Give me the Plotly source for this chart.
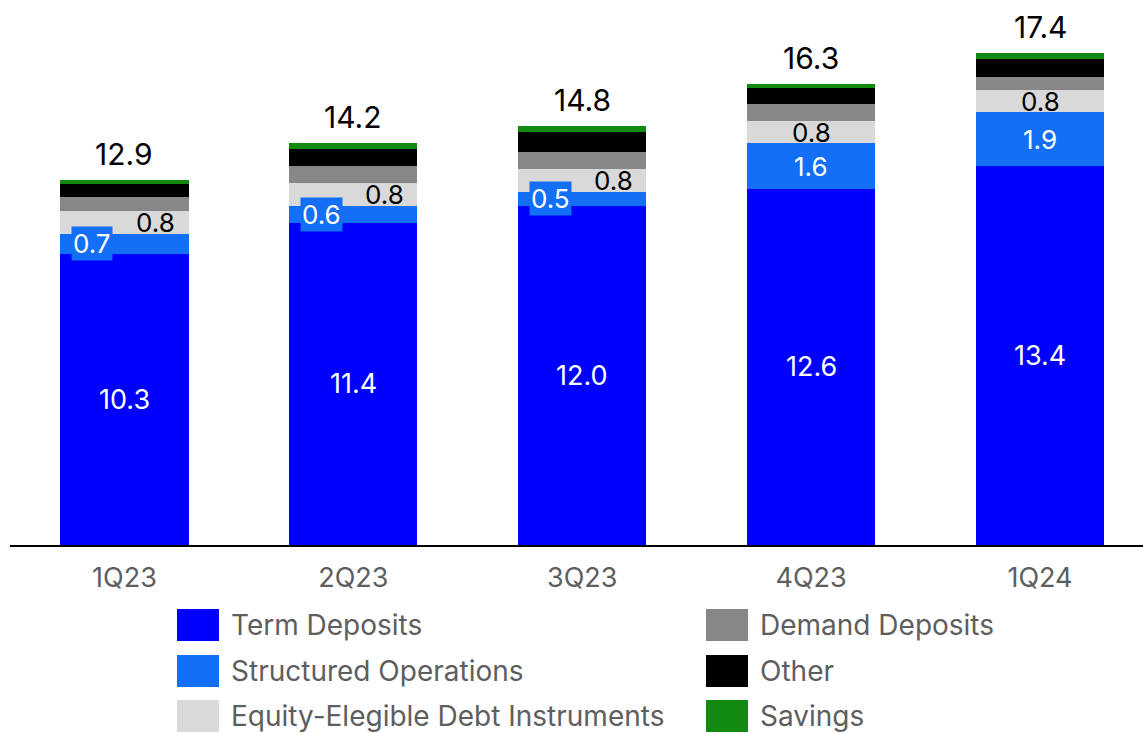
import plotly.graph_objects as go

# Quarterly deposit composition (billions)
quarters = ["1Q23", "2Q23", "3Q23", "4Q23", "1Q24"]
term_deposits = [10.3, 11.4, 12.0, 12.6, 13.4]
structured_ops = [0.7, 0.6, 0.5, 1.6, 1.9]
equity_debt = [0.8, 0.8, 0.8, 0.8, 0.8]
demand_deposits = [0.5, 0.6, 0.6, 0.6, 0.45]
other = [0.45, 0.6, 0.7, 0.55, 0.65]
savings = [0.15, 0.2, 0.2, 0.15, 0.2]
totals = [12.9, 14.2, 14.8, 16.3, 17.4]

series_names = ["Term Deposits", "Structured Operations", "Equity-Elegible Debt Instruments",
                "Demand Deposits", "Other", "Savings"]
series_values = [term_deposits, structured_ops, equity_debt, demand_deposits, other, savings]
series_colors = ["#0000FF", "#136FF5", "#D9D9D9", "#87878A", "#000000", "#128A12"]

FONT = "Inter, Noto Sans, sans-serif"
TEXT_GREY = "#5E5E5E"

fig = go.Figure()
for name, vals, col in zip(series_names, series_values, series_colors):
    fig.add_trace(go.Bar(x=quarters, y=vals, name=name, marker=dict(color=col, line=dict(width=0)),
                         showlegend=False, hoverinfo="skip"))

annotations = []
for i, q in enumerate(quarters):
    t = term_deposits[i]
    s = structured_ops[i]
    e = equity_debt[i]
    # term deposits value, centred in segment
    annotations.append(dict(x=q, y=t / 2, text=f"{t:.1f}", showarrow=False,
                            font=dict(size=27, color="white", family=FONT)))
    wide = s >= 1.0
    # structured operations value
    annotations.append(dict(x=q, y=t + s / 2, text=f"{s:.1f}", showarrow=False,
                            xshift=0 if wide else -32,
                            bgcolor=None if wide else "#136FF5",
                            borderpad=1,
                            font=dict(size=26, color="white", family=FONT)))
    # equity-eligible debt value
    annotations.append(dict(x=q, y=t + s + e / 2, text=f"{e:.1f}", showarrow=False,
                            xshift=0 if wide else 31,
                            font=dict(size=26, color="black", family=FONT)))
    # total on top
    annotations.append(dict(x=q, y=totals[i], text=f"{totals[i]:.1f}", showarrow=False,
                            yanchor="bottom", yshift=6,
                            font=dict(size=30, color="black", family=FONT)))

# Custom legend: two columns of swatches with labels
L, T_PLOT, B_PLOT, W_PLOT = 10, 36, 545, 1133
H_PLOT = B_PLOT - T_PLOT


def px_x(x):
    return (x - L) / W_PLOT


def px_y(y):
    return (B_PLOT - y) / H_PLOT


shapes = []
legend_cols = [(177, 229), (706, 758)]
legend_rows = [625, 671, 716]
for k, (name, col) in enumerate(zip(series_names, series_colors)):
    sx, tx = legend_cols[k // 3]
    cy = legend_rows[k % 3]
    shapes.append(dict(type="rect", xref="paper", yref="paper",
                       x0=px_x(sx), x1=px_x(sx + 42), y0=px_y(cy + 16), y1=px_y(cy - 16),
                       fillcolor=col, line=dict(width=0)))
    annotations.append(dict(xref="paper", yref="paper", x=px_x(tx), y=px_y(cy),
                            xanchor="left", yanchor="middle", text=name, showarrow=False,
                            font=dict(size=28, color=TEXT_GREY, family=FONT)))

fig.update_layout(
    barmode="stack",
    bargap=0.44,
    width=1143, height=733,
    margin=dict(l=L, r=0, t=T_PLOT, b=733 - B_PLOT),
    plot_bgcolor="white", paper_bgcolor="white",
    annotations=annotations,
    shapes=shapes,
    xaxis=dict(range=[-0.5, 4.45], showline=True, linecolor="black", linewidth=2,
               ticks="", ticklabelstandoff=8,
               tickfont=dict(size=27, color=TEXT_GREY, family=FONT),
               showgrid=False, zeroline=False),
    yaxis=dict(range=[0, 18], visible=False, showgrid=False, zeroline=False),
)

fig.write_html("out.html")
